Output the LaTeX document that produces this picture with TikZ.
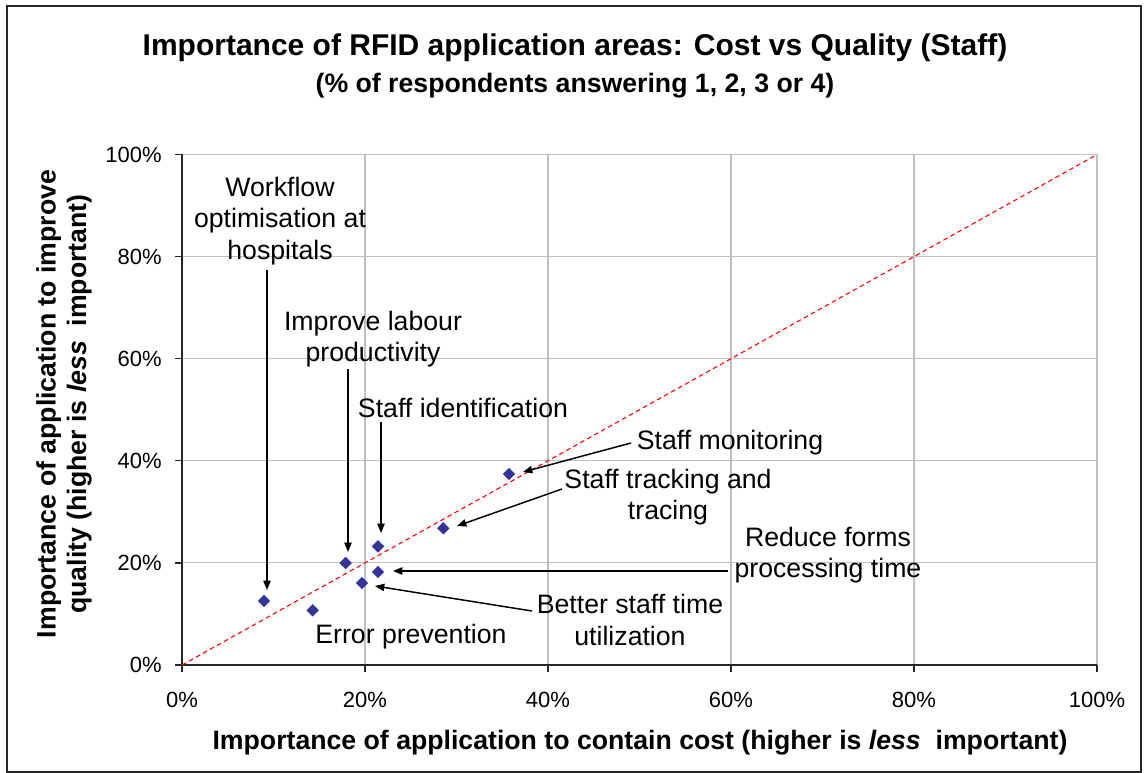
\documentclass[tikz,border=0pt]{standalone}
\usepackage{fontspec}
\setmainfont{Liberation Sans}
\usetikzlibrary{arrows.meta,shapes.geometric}
\definecolor{navy}{RGB}{51,51,153}
\definecolor{gridgray}{RGB}{192,192,192}
\begin{document}
\begin{tikzpicture}[x=0.75pt,y=-0.75pt,
  lbl/.style={align=center,inner sep=0pt,font=\fontsize{20}{23.5}\selectfont},
  tick/.style={inner sep=0pt,font=\fontsize{16.5}{19}\selectfont},
  axtitle/.style={align=center,inner sep=0pt,font=\bfseries\fontsize{20}{23}\selectfont},
  pt/.style={diamond,aspect=1,fill=navy,inner sep=0pt,minimum width=9.5pt,minimum height=9.5pt},
  callout/.style={line width=1.1pt,-{Triangle[length=7pt,width=5.5pt]}},
  gridline/.style={gridgray,line width=0.8pt}]
\useasboundingbox (0,0) rectangle (1147,773);
\fill[white] (0,0) rectangle (1147,773);
\draw[line width=1pt,black!85] (7,6) rectangle (1141,772);
% title
\node[inner sep=0pt,font=\bfseries\fontsize{22.5}{26}\selectfont] (title) at (575,48) {Importance of RFID application areas: Cost vs Quality (Staff)};
\node[inner sep=0pt,font=\bfseries\fontsize{20}{23}\selectfont] (subtitle) at (575,86) {(\% of respondents answering 1, 2, 3 or 4)};
% grid
\foreach \k in {1,...,5}{
  \draw[gridline] ({182+183*\k},154.5) -- ({182+183*\k},665);
  \draw[gridline] (182,{665-102.1*\k}) -- (1097,{665-102.1*\k});
}
% axes
\draw[line width=1.1pt,black!85] (182,154.5) -- (182,665) -- (1097,665);
\foreach \k in {0,...,5}{
  \draw[line width=1pt,black!85] (175,{665-102.1*\k}) -- (182,{665-102.1*\k});
  \draw[line width=1pt,black!85] ({182+183*\k},665) -- ({182+183*\k},672);
}
% tick labels
\foreach \k/\t in {0/0\%,1/20\%,2/40\%,3/60\%,4/80\%,5/100\%}{
  \node[tick,anchor=east] (yl\k) at (162,{665-102.1*\k}) {\t};
  \node[tick] (xl\k) at ({182+183*\k},700) {\t};
}
% axis titles
\node[axtitle] (xtitle) at (640,743) {Importance of application to contain cost (higher is \textit{less}\ \ important)};
\node[axtitle,rotate=90] (ytitle) at (64,404) {Importance of application to improve\\quality (higher is \textit{less}\ \ important)};
% diagonal
\coordinate (o) at (182,665);
\coordinate (corner) at (1097,154.5);
\draw[red,line width=0.8pt,dash pattern=on 3.5pt off 2.5pt] (o) -- (corner);
% data points
\node[pt] (p1) at (264,601) {};
\node[pt] (p2) at (312.7,610.3) {};
\node[pt] (p3) at (345.7,563) {};
\node[pt] (p4) at (362,583) {};
\node[pt] (p5) at (378,546.3) {};
\node[pt] (p6) at (378,572) {};
\node[pt] (p7) at (443.3,528.3) {};
\node[pt] (p8) at (509,474) {};
% labels
\node[lbl] (lwork) at (280,221) {Workflow\\optimisation at\\hospitals};
\node[lbl] (llab) at (373,339) {Improve labour\\productivity};
\node[lbl] (lid) at (463,408) {Staff identification};
\node[lbl] (lmon) at (730,443) {Staff monitoring};
\node[lbl] (ltrack) at (668,497) {Staff tracking and\\tracing};
\node[lbl] (lforms) at (828,555) {Reduce forms\\processing time};
\node[lbl] (lbetter) at (630,620) {Better staff time\\utilization};
\node[lbl] (lerr) at (411,637) {Error prevention};
% arrow ends
\coordinate (s1) at (267,270); \coordinate (t1) at (267,590);
\coordinate (s2) at (348,369); \coordinate (t2) at (348,552);
\coordinate (s3) at (381,422); \coordinate (t3) at (381,533);
\coordinate (s4) at (631,443); \coordinate (t4) at (523,472);
\coordinate (s5) at (562,489); \coordinate (t5) at (457,526);
\coordinate (s6) at (728,571); \coordinate (t6) at (393,571);
\coordinate (s7) at (532,611); \coordinate (t7) at (375,586);
\foreach \i in {1,...,7}{ \draw[callout] (s\i) -- (t\i); }
\end{tikzpicture}
\end{document}
